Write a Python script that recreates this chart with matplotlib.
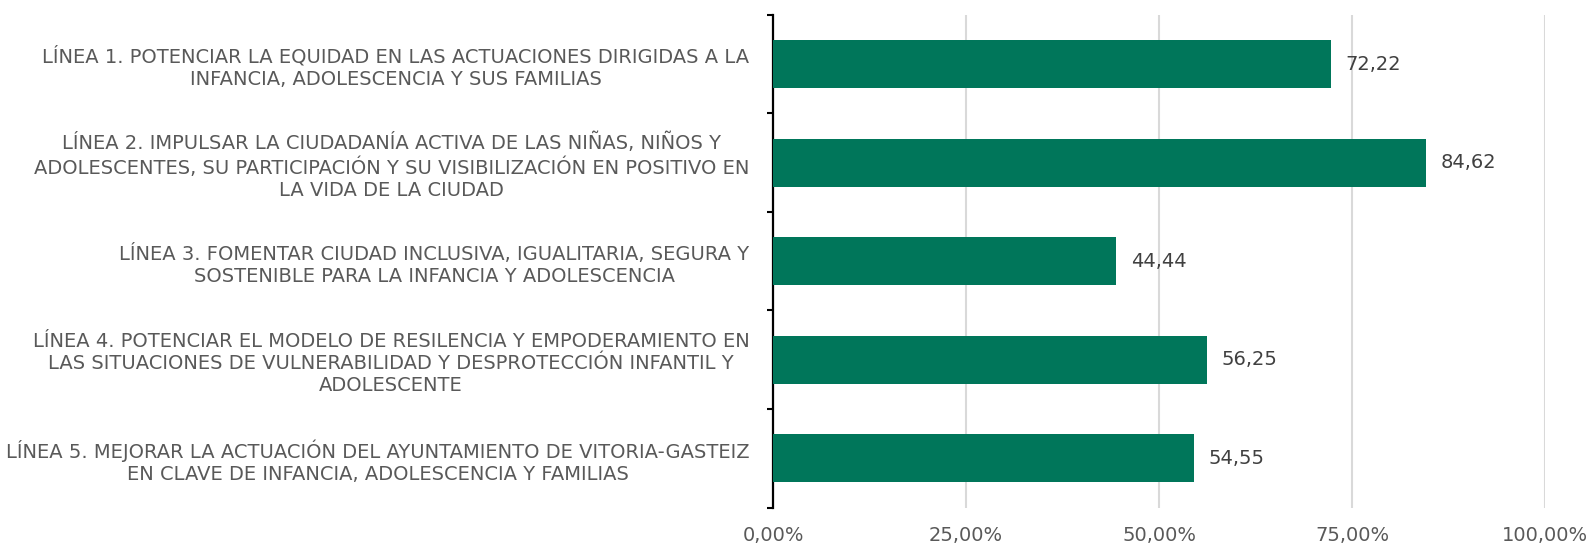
import matplotlib
matplotlib.use("Agg")
import matplotlib.pyplot as plt
from matplotlib.ticker import FixedLocator

# datos
lineas = [
    "LÍNEA 1. POTENCIAR LA EQUIDAD EN LAS ACTUACIONES DIRIGIDAS A LA\nINFANCIA, ADOLESCENCIA Y SUS FAMILIAS",
    "LÍNEA 2. IMPULSAR LA CIUDADANÍA ACTIVA DE LAS NIÑAS, NIÑOS Y\nADOLESCENTES, SU PARTICIPACIÓN Y SU VISIBILIZACIÓN EN POSITIVO EN\nLA VIDA DE LA CIUDAD",
    "LÍNEA 3. FOMENTAR CIUDAD INCLUSIVA, IGUALITARIA, SEGURA Y\nSOSTENIBLE PARA LA INFANCIA Y ADOLESCENCIA",
    "LÍNEA 4. POTENCIAR EL MODELO DE RESILENCIA Y EMPODERAMIENTO EN\nLAS SITUACIONES DE VULNERABILIDAD Y DESPROTECCIÓN INFANTIL Y\nADOLESCENTE",
    "LÍNEA 5. MEJORAR LA ACTUACIÓN DEL AYUNTAMIENTO DE VITORIA-GASTEIZ\nEN CLAVE DE INFANCIA, ADOLESCENCIA Y FAMILIAS",
]
porcentajes = [72.22, 84.62, 44.44, 56.25, 54.55]
xticks = [0, 25, 50, 75, 100]
xlabels = ["0,00%", "25,00%", "50,00%", "75,00%", "100,00%"]

verde = "#00765A"

fig = plt.figure(figsize=(15.91, 5.45), dpi=100)
ax = fig.add_axes([0.4859, 0.0688, 0.4852, 0.9037])

pos = list(range(len(lineas)))
ax.barh(pos, porcentajes, height=0.49, color=verde, zorder=3)

for p, v in zip(pos, porcentajes):
    ax.text(v + 1.9, p, ("%.2f" % v).replace(".", ","), va="center", ha="left",
            fontsize=14, color="#404040")

ax.set_xlim(0, 100)
ax.set_ylim(4.5, -0.5)
ax.set_xticks(xticks)
ax.set_xticklabels(xlabels, fontsize=14, color="#595959")
ax.tick_params(axis="x", length=0, pad=13)
ax.grid(axis="x", color="#d9d9d9", linewidth=1.5, zorder=0)

ax.set_yticks(pos)
ax.set_yticklabels(lineas, fontsize=14, color="#595959", multialignment="center",
                   linespacing=1.22)
ax.tick_params(axis="y", length=0, pad=17)
ax.yaxis.set_minor_locator(FixedLocator([-0.5, 0.5, 1.5, 2.5, 3.5, 4.5]))
ax.tick_params(axis="y", which="minor", length=4, width=1.5, color="black")

for s in ["top", "right", "bottom"]:
    ax.spines[s].set_visible(False)
ax.spines["left"].set_linewidth(1.6)
ax.spines["left"].set_color("black")

fig.savefig("out.png", dpi=100)
